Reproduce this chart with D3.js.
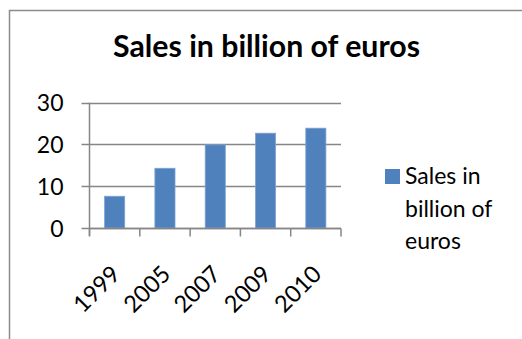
<!DOCTYPE html>
<html>
<head>
<meta charset="utf-8">
<script src="https://cdn.jsdelivr.net/npm/d3@7"></script>
<style>
  html, body { margin: 0; padding: 0; background: #fff; }
  svg { display: block; font-family: Lato, "Open Sans", sans-serif; }
</style>
</head>
<body>
<svg id="chart" width="522" height="339"></svg>
<script>
// Annual sales, billions of euros
const years = ["1999", "2005", "2007", "2009", "2010"];
const sales = [7.6, 14.3, 19.9, 22.7, 23.9];
const yTicks = [0, 10, 20, 30];
const title = "Sales in billion of euros";
const seriesName = ["Sales in", "billion of", "euros"];

const W = 522, H = 339;
const svg = d3.select("#chart");
const barColor = "#4F81BD";
const lineColor = "#868686";

// chart area frame
svg.append("path")
  .attr("d", `M9.5,${H} V10.5 H${W}`)
  .attr("fill", "none")
  .attr("stroke", "#8c8c8c")
  .attr("stroke-width", 1.5);

// title, sized to span the width of the header
const titleText = svg.append("text")
  .attr("x", 266.5).attr("y", 57)
  .attr("text-anchor", "middle")
  .attr("font-weight", "bold")
  .attr("font-size", 28)
  .attr("fill", "#000")
  .text(title);
const tw = titleText.node().getComputedTextLength();
titleText.attr("font-size", 28 * 307 / tw);

const plot = { left: 89.5, right: 341, top: 102.7, bottom: 228 };

const x = d3.scaleBand()
  .domain(years)
  .range([plot.left, plot.right])
  .paddingInner(0.6)
  .paddingOuter(0.3);

const y = d3.scaleLinear()
  .domain([0, 30])
  .range([plot.bottom, plot.top]);

// horizontal gridlines
svg.append("g")
  .selectAll("line")
  .data(yTicks)
  .join("line")
  .attr("x1", plot.left - 8).attr("x2", plot.right)
  .attr("y1", d => Math.round(y(d)) + 0.5).attr("y2", d => Math.round(y(d)) + 0.5)
  .attr("stroke", lineColor).attr("stroke-width", 1.3);

// bars
svg.append("g")
  .selectAll("rect")
  .data(sales)
  .join("rect")
  .attr("x", (d, i) => x(years[i]))
  .attr("y", d => y(d))
  .attr("width", x.bandwidth())
  .attr("height", d => y(0) - y(d))
  .attr("fill", barColor)
  .attr("stroke", "#7ea3d4")
  .attr("stroke-width", 0.8);

// y axis
const yAxis = svg.append("g")
  .attr("transform", `translate(${plot.left},0)`)
  .call(d3.axisLeft(y).tickValues(yTicks).tickSize(0).tickPadding(26));
yAxis.select(".domain")
  .attr("d", `M0,${plot.top}V${plot.bottom + 8}`)
  .attr("stroke", lineColor).attr("stroke-width", 1.5);
yAxis.selectAll("text")
  .attr("font-family", "Lato, 'Open Sans', sans-serif")
  .attr("font-size", 23).attr("fill", "#000").attr("dy", "0.36em");

// x axis baseline and category boundary ticks
const xAxis = svg.append("g")
  .attr("transform", `translate(0,${Math.round(plot.bottom) + 0.5})`);
xAxis.append("line")
  .attr("x1", plot.left).attr("x2", plot.right)
  .attr("stroke", lineColor).attr("stroke-width", 1.5);
const bounds = years.map(d => x(d) - x.step() * x.paddingInner() / 2 - (d === years[0] ? x.step() * (x.paddingOuter() - x.paddingInner() / 2) : 0));
bounds.push(plot.right);
xAxis.selectAll("line.tick")
  .data(bounds)
  .join("line")
  .attr("class", "tick")
  .attr("x1", d => d).attr("x2", d => d)
  .attr("y1", 0).attr("y2", 8)
  .attr("stroke", lineColor).attr("stroke-width", 1.5);

// rotated category labels
xAxis.selectAll("text")
  .data(years)
  .join("text")
  .attr("transform", d => `translate(${x(d) + x.bandwidth() / 2 + 7},47) rotate(-45)`)
  .attr("text-anchor", "end")
  .attr("font-size", 23.5)
  .attr("fill", "#000")
  .text(d => d);

// legend
const legend = svg.append("g").attr("transform", "translate(385,169)");
legend.append("rect")
  .attr("width", 15).attr("height", 15)
  .attr("fill", barColor);
legend.append("text")
  .attr("x", 20).attr("y", 15)
  .attr("font-size", 23)
  .attr("fill", "#000")
  .selectAll("tspan")
  .data(seriesName)
  .join("tspan")
  .attr("x", 20)
  .attr("dy", (d, i) => i === 0 ? 0 : 32.5)
  .text(d => d);
</script>
</body>
</html>
